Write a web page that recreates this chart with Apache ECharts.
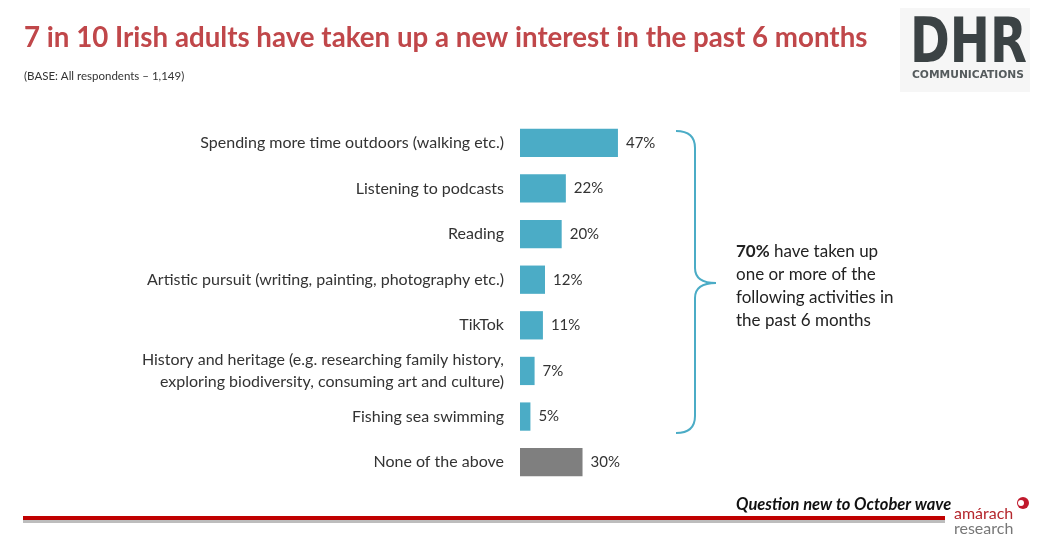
<!DOCTYPE html>
<html>
<head>
<meta charset="utf-8">
<script src="https://cdn.jsdelivr.net/npm/echarts@6/dist/echarts.min.js"></script>
<style>html,body{margin:0;padding:0;background:#fff}#c{width:1049px;height:548px}</style>
</head>
<body>
<div id="c"></div>
<script>
var categories = [
  "Spending more time outdoors (walking etc.)",
  "Listening to podcasts",
  "Reading",
  "Artistic pursuit (writing, painting, photography etc.)",
  "TikTok",
  "History and heritage (e.g. researching family history,\nexploring biodiversity, consuming art and culture)",
  "Fishing sea swimming",
  "None of the above"
];
var values = [47, 22, 20, 12, 11, 7, 5, 30];
var barColors = ["#4bacc6","#4bacc6","#4bacc6","#4bacc6","#4bacc6","#4bacc6","#4bacc6","#7f7f7f"];

var chart = echarts.init(document.getElementById('c'));
var F = 'Lato, "Open Sans", sans-serif';
var bs = {fill: null, stroke: '#4bacc6', lineWidth: 2};
function bz(x1,y1,cx,cy,x2,y2){ return {type:'bezierCurve', shape:{x1:x1,y1:y1,cpx1:cx,cpy1:cy,x2:x2,y2:y2}, style: bs}; }
function ln(x1,y1,x2,y2){ return {type:'line', shape:{x1:x1,y1:y1,x2:x2,y2:y2}, style: bs}; }
chart.setOption({
  animation: false,
  title: [{
    text: '7 in 10 Irish adults have taken up a new interest in the past 6 months',
    left: 19, top: 19,
    textStyle: {color: '#c0474a', fontSize: 27.7, fontWeight: 'bold', fontFamily: F}
  }, {
    text: '(BASE: All respondents \u2013 1,149)',
    left: 19, top: 65,
    textStyle: {color: '#333', fontSize: 11.5, fontWeight: 'normal', fontFamily: F}
  }],
  grid: {left: 520, top: 120, width: 104.2, height: 365},
  xAxis: {type: 'value', min: 0, max: 50, show: false},
  yAxis: {
    type: 'category', data: categories, inverse: true,
    axisLine: {show: false}, axisTick: {show: false},
    axisLabel: {margin: 16, color: '#333', fontSize: 16, fontFamily: F, lineHeight: 22, align: 'right'}
  },
  series: [{
    type: 'bar',
    data: values.map(function(v, i){ return {value: v, itemStyle: {color: barColors[i]}}; }),
    barCategoryGap: '38%',
    label: {show: true, position: 'right', distance: 8, formatter: '{c}%', color: '#333', fontSize: 15, fontFamily: F}
  }],
  graphic: [
    {type: 'rect', shape: {x: 900, y: 8, width: 130, height: 84}, style: {fill: '#f6f6f6'}},
    {type: 'text', x: 910, y: 15, scaleX: 0.86, style: {text: 'DHR', fill: '#3b4244', font: 'bold 62px "DejaVu Sans Condensed", sans-serif'}},
    {type: 'text', x: 912, y: 70, scaleX: 1.08, style: {text: 'COMMUNICATIONS', fill: '#555b5d', font: 'bold 11px "DejaVu Sans Condensed", sans-serif'}},
    bz(676,131,695,131,695,148), ln(695,148,695,268), bz(695,268,695,283,716,283),
    bz(716,283,695,283,695,298), ln(695,298,695,416), bz(695,416,695,433,676,433),
    {type: 'text', x: 736, y: 240, style: {
      text: '{b|70%} have taken up\none or more of the\nfollowing activities in\nthe past 6 months',
      rich: {b: {fontWeight: 'bold', fontSize: 17, fontFamily: F, fill: '#222'}},
      fill: '#222', font: '17px ' + F, lineHeight: 23}},
    {type: 'text', x: 736, y: 496, style: {text: 'Question new to October wave', fill: '#111', font: 'italic bold 16.5px ' + F}},
    {type: 'rect', shape: {x: 23, y: 520, width: 922, height: 3}, style: {fill: '#bdbdbd'}},
    {type: 'rect', shape: {x: 23, y: 516, width: 922, height: 4}, style: {fill: '#c00000'}},
    {type: 'text', x: 954, y: 506, style: {text: 'am\u00e1rach', fill: '#b5272d', font: '16px ' + F}},
    {type: 'text', x: 954, y: 521, style: {text: 'research', fill: '#777', font: '16px ' + F}},
    {type: 'circle', shape: {cx: 1023, cy: 503, r: 6}, style: {fill: '#c0192c'}},
    {type: 'circle', shape: {cx: 1021, cy: 503, r: 3}, style: {fill: '#fff'}}
  ]
});
</script>
</body>
</html>
